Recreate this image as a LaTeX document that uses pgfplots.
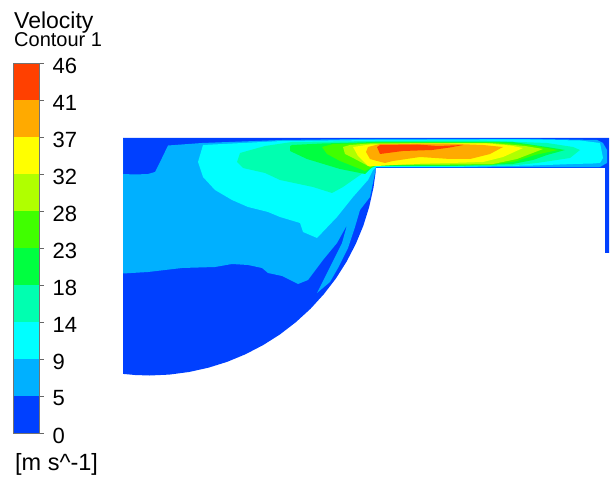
\documentclass[border=0pt]{standalone}
\usepackage{pgfplots}
\pgfplotsset{compat=1.18}
\usepackage{fontspec}
\setmainfont{Liberation Sans}
\definecolor{c0}{RGB}{0,64,255}
\definecolor{c1}{RGB}{0,176,255}
\definecolor{c2}{RGB}{0,255,255}
\definecolor{c3}{RGB}{0,255,176}
\definecolor{c4}{RGB}{0,255,64}
\definecolor{c5}{RGB}{64,255,0}
\definecolor{c6}{RGB}{176,255,0}
\definecolor{c7}{RGB}{255,255,0}
\definecolor{c8}{RGB}{255,170,0}
\definecolor{c9}{RGB}{255,64,0}
\begin{document}
\begin{tikzpicture}
\path[use as bounding box] (0,0) rectangle (610pt,478pt);
\begin{axis}[
  at={(0,0)},anchor=south west,scale only axis,width=610pt,height=478pt,
  xmin=0,xmax=610,ymin=0,ymax=478,y dir=reverse,hide axis,clip=false]
% 0-5: whole domain
\addplot[fill=c0,draw=none] coordinates {(123,138)(609,138)(609,253)(605,253)(605,168)(375.7,168)(375.7,171.8)
 (373.5,187.5)(369.2,206.9)(363.3,225.8)(355.7,244.1)(346.5,261.8)(335.9,278.5)(323.8,294.2)(310.4,308.9)(295.7,322.3)(280,334.4)(263.3,345)(245.6,354.2)(227.3,361.8)(208.4,367.7)(189,372)(169.3,374.6)(149.5,375.5)(135,375)(123,373.9)};
% 5-9
\addplot[fill=c1,draw=none] coordinates {(123,139)(123,174)(135,174.5)(148,174)(155,172)(162,158)(168,145.5)(202,143)(282,140)(375,138.8)(530,138.8)(597,140)(603,143)(607,150)(607,163)(600,167)(376,167.5)
 (375,173)(370,197)(360,210)(355,227)(348,248)(338,268)(330,282)(317,293)(330,267)(342,243)(347,225)(337,243)(323,260)(308,280)(298,284)(282,276)(268,273)(262,268)(248,265)(232,264)(215,267)(182,268)(148,272)(123,273.5)} ;
% 9-14
\addplot[fill=c2,draw=none] coordinates {(203,145)(282,141)(375,140)(480,139.5)(530,139.5)(580,140.5)(600,143)(603,158)(600,163)(593,163.5)(573,164)(533,165.5)(450,167)(376,167)(373,170)(368,180)(353,197)(337,217)(317,238)(303,232)(300,223)(280,217)(268,212)(248,207)(232,200)(215,190)(203,177)(198,162)};
% 14-18
\addplot[fill=c3,draw=none] coordinates {(240,153)(265,146)(292,142)(375,141)(480,140.5)(547,143)(573,147)(580,150)(570,158)(537,163)(513,165.5)(450,166.5)(376,166.5)(370,168)(363,173)(343,187)(332,193)(313,187)(280,180)(265,173)(243,168)(237,162)};
% 18-23
\addplot[fill=c4,draw=none] coordinates {(290,146)(292,145)(322,143.5)(375,142)(513,142)(547,147)(565,150)(547,155)(533,160)(513,164)(450,166)(376,166)(373,166)(365,174)(340,169)(307,159)(290,151)};
% 23-28
\addplot[fill=c5,draw=none] coordinates {(322,147)(333,144)(380,142.5)(500,142.5)(530,145)(558,150)(535,155)(515,161.5)(490,165)(450,165.5)(376,165.5)(365,171)(340,161)(327,154)};
% 28-32
\addplot[fill=c6,draw=none] coordinates {(343,147)(350,145)(370,143.5)(490,143)(525,146)(543,149)(517,159)(493,164)(450,164.5)(378,165)(370,167)(355,159)(345,154)};
% 32-37
\addplot[fill=c7,draw=none] coordinates {(353,147)(370,144.5)(410,143.5)(487,143.5)(510,145.5)(523,148)(503,157)(483,162)(450,163)(410,164)(377,166)(368,166)(358,156)};
% 37-41
\addplot[fill=c8,draw=none] coordinates {(368,147)(380,144)(443,143.5)(483,145)(503,147)(490,154)(470,159)(450,159)(420,157)(393,161)(385,163)(377,161)(370,159)(366,152)};
% 41-46
\addplot[fill=c9,draw=none] coordinates {(377,147)(380,145)(417,144.5)(438,146)(463,145)(450,147.5)(432,150)(403,151)(380,154)};
\node[anchor=base west,inner sep=0pt,font=\fontsize{23}{24}\selectfont] at (axis cs:14,28.5) {Velocity};
\node[anchor=base west,inner sep=0pt,font=\fontsize{20}{22}\selectfont] at (axis cs:14,46.7) {Contour 1};
\node[anchor=base west,inner sep=0pt,font=\fontsize{23.5}{24}\selectfont] at (axis cs:15,470) {[m s\string^-1]};
\end{axis}
\begin{axis}[
  at={(13pt,45pt)},anchor=south west,scale only axis,width=26pt,height=370pt,
  xmin=0,xmax=1,ymin=0,ymax=46,xtick=\empty,
  ytick={0,4.6,9.2,13.8,18.4,23,27.6,32.2,36.8,41.4,46},
  yticklabels={0,5,9,14,18,23,28,32,37,41,46},
  ytick pos=right,yticklabel pos=right,
  tick style={black!60,line width=0.7pt},
  tick align=outside,major tick length=5pt,
  yticklabel style={font=\fontsize{22}{24}\selectfont,xshift=5pt,yshift=-2.5pt},
  axis line style={black!55,line width=0.9pt},
  axis on top]
\addplot[fill=c0,draw=none] coordinates {(0,0)(1,0)(1,4.6)(0,4.6)};
\addplot[fill=c1,draw=none] coordinates {(0,4.6)(1,4.6)(1,9.2)(0,9.2)};
\addplot[fill=c2,draw=none] coordinates {(0,9.2)(1,9.2)(1,13.8)(0,13.8)};
\addplot[fill=c3,draw=none] coordinates {(0,13.8)(1,13.8)(1,18.4)(0,18.4)};
\addplot[fill=c4,draw=none] coordinates {(0,18.4)(1,18.4)(1,23)(0,23)};
\addplot[fill=c5,draw=none] coordinates {(0,23)(1,23)(1,27.6)(0,27.6)};
\addplot[fill=c6,draw=none] coordinates {(0,27.6)(1,27.6)(1,32.2)(0,32.2)};
\addplot[fill=c7,draw=none] coordinates {(0,32.2)(1,32.2)(1,36.8)(0,36.8)};
\addplot[fill=c8,draw=none] coordinates {(0,36.8)(1,36.8)(1,41.4)(0,41.4)};
\addplot[fill=c9,draw=none] coordinates {(0,41.4)(1,41.4)(1,46)(0,46)};
\end{axis}
\end{tikzpicture}
\end{document}
